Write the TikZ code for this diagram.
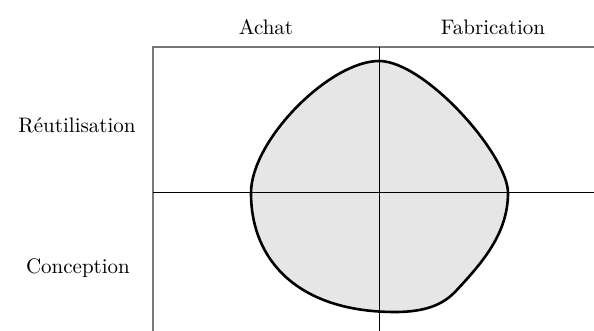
\documentclass[tikz,border=0pt]{standalone}
\usepackage{tikz}
\usetikzlibrary{positioning}
\usepackage{xcolor}
\definecolor{framegray}{RGB}{120,120,120}
\definecolor{blobfill}{RGB}{230,230,230}

\begin{document}
\begin{tikzpicture}[
    x=0.5pt, y=-0.5pt,
    lbl/.style={font=\fontsize{10.5}{12}\selectfont, inner sep=0pt},
    frame/.style={draw=framegray, line width=0.65pt},
    axis/.style={draw=black, line width=0.5pt},
    blob/.style={draw=black, line width=1.3pt, fill=blobfill, line join=round}
]
\useasboundingbox (0,0) rectangle (594,331);

% outer frame
\draw[frame] (594,47) -- (153,47) -- (153,331);

% zone
\draw[blob] (379,61) .. controls (330,61) and (251,140) .. (251,193)
    .. controls (251,262) and (300,312) .. (395,312)
    .. controls (430,312) and (445,302) .. (455,292)
    .. controls (480,265) and (508,235) .. (508,193)
    .. controls (508,155) and (425,61) .. (379,61) -- cycle;

% axes
\draw[axis] (153,193) -- (594,193);
\draw[axis] (379,47) -- (379,331);

\node[lbl] (achat) at (266,27) {Achat};
\node[lbl] (fab) at (493,27) {Fabrication};
\node[lbl] (reut) at (77,125) {Réutilisation};
\node[lbl] (concep) at (78,268) {Conception};
\end{tikzpicture}
\end{document}
